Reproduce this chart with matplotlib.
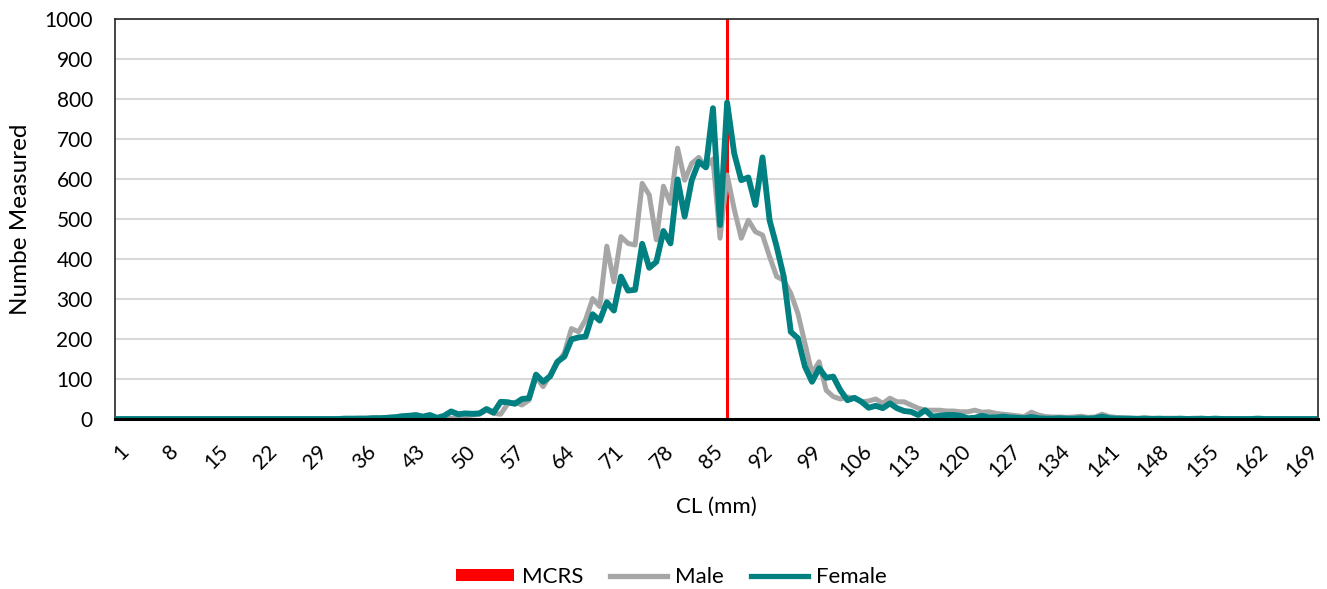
import matplotlib
matplotlib.use("Agg")
import matplotlib.pyplot as plt
from matplotlib.patches import Patch
from matplotlib.lines import Line2D

plt.rcParams['font.family'] = ['Lato', 'DejaVu Sans']

# Categories: CL (mm) 1..170
cl = list(range(1, 171))

female_head = [0]*30 + [0, 0, 1, 1, 1, 1, 2, 2, 3]  # 1..39
female_mid = [4, 7, 8, 10, 6, 10, 3, 8, 19, 12,          # 40-49
              14, 13, 14, 25, 16, 43, 42, 38, 50, 52,     # 50-59
              111, 93, 107, 143, 156, 199, 204, 206, 262, 246,  # 60-69
              292, 271, 356, 321, 323, 438, 378, 393, 470, 439, # 70-79
              599, 506, 597, 643, 629, 777, 485, 791, 664, 597, # 80-89
              604, 535, 654, 497, 431, 356, 218, 202, 131, 93,  # 90-99
              127, 103, 106, 72, 47, 53, 43, 28, 33, 27,        # 100-109
              39, 27, 20, 18, 10, 22, 6, 8, 10, 10,             # 110-119
              8, 2, 3, 8, 4, 4, 6, 4, 3, 2,                     # 120-129
              5, 2, 1, 1, 2, 1, 1, 2, 1, 2,                     # 130-139
              6, 2, 1, 1, 1, 0, 1, 0, 1, 0]                     # 140-149
female_tail = [0, 1, 0, 0, 1, 0, 1, 0, 0, 0,
               0, 0, 1, 0, 0, 0, 0, 0, 0, 0, 0]                 # 150-170
female = female_head + female_mid + female_tail

male_head = [0]*30 + [0, 0, 1, 1, 2, 2, 3, 3, 4]  # 1..39
male_mid = [6, 5, 4, 6, 4, 5, 2, 3, 2, 3,                # 40-49
            8, 10, 12, 22, 14, 12, 38, 42, 35, 47,       # 50-59
            105, 81, 110, 139, 165, 226, 218, 248, 301, 281,  # 60-69
            432, 343, 456, 439, 435, 589, 560, 448, 582, 539, # 70-79
            677, 597, 639, 654, 629, 650, 452, 610, 525, 452, # 80-89
            497, 468, 460, 406, 356, 347, 314, 264, 189, 114, # 90-99
            143, 72, 56, 50, 55, 52, 43, 45, 50, 39,          # 100-109
            52, 43, 43, 35, 27, 22, 22, 22, 20, 20,           # 110-119
            18, 18, 22, 17, 18, 14, 12, 10, 8, 6,             # 120-129
            17, 10, 6, 5, 5, 4, 5, 7, 4, 5,                   # 130-139
            12, 6, 4, 3, 2, 2, 3, 2, 1, 2]                    # 140-149
male_tail = [2, 1, 1, 2, 1, 1, 0, 1, 0, 1,
             0, 0, 1, 0, 0, 1, 0, 0, 0, 0, 0]                 # 150-170
male = male_head + male_mid + male_tail

mcrs_cl = [87]
mcrs_val = [1000]

xtick_labels = list(range(1, 170, 7))

fig = plt.figure(figsize=(13.27, 5.89), dpi=100)
ax = fig.add_axes([115/1327, 1-419/589, (1318-115)/1327, 400/589])

red = '#FF0000'
gray = '#A6A6A6'
teal = '#008080'

ax.bar(mcrs_cl, mcrs_val, width=0.42, color=red, zorder=2)
ax.plot(cl, male, color=gray, lw=3.6, solid_joinstyle='round', zorder=3)
ax.plot(cl, female, color=teal, lw=4.2, solid_joinstyle='round', zorder=4)

ax.set_xlim(0.5, 170.5)
ax.set_ylim(0, 1000)
ax.set_yticks(range(0, 1001, 100))
ax.set_xticks(xtick_labels)
ax.set_xticklabels([str(v) for v in xtick_labels], rotation=45, ha='right',
                   va='top', rotation_mode='anchor')
ax.tick_params(axis='x', length=0, pad=16, labelsize=15)
ax.tick_params(axis='y', length=0, pad=16, labelsize=15)
ax.grid(axis='y', color='#D9D9D9', lw=1.5, zorder=0)
ax.set_axisbelow(True)
for s in ['left', 'right', 'top']:
    ax.spines[s].set_color('#262626')
    ax.spines[s].set_linewidth(1.2)
ax.spines['bottom'].set_color('black')
ax.spines['bottom'].set_linewidth(2.2)
ax.spines['bottom'].set_zorder(5)

ax.set_xlabel('CL (mm)', fontsize=16)
ax.set_ylabel('Numbe Measured', fontsize=17.5)
ax.xaxis.set_label_coords(0.5, (419-507)/400)
ax.xaxis.label.set_va('center')
ax.yaxis.set_label_coords((21-115)/1203, 0.5)
ax.yaxis.label.set_va('center')

handles = [Patch(facecolor=red, edgecolor='none'),
           Line2D([0], [0], color=gray, lw=3.8),
           Line2D([0], [0], color=teal, lw=3.8)]
fig.legend(handles, ['MCRS', 'Male', 'Female'], loc='center',
           bbox_to_anchor=(0.506, 1-577/589), ncol=3, frameon=False,
           fontsize=16, handlelength=2.6, handleheight=0.5,
           handletextpad=0.35, columnspacing=1.2)

fig.savefig('out.png', dpi=100)
